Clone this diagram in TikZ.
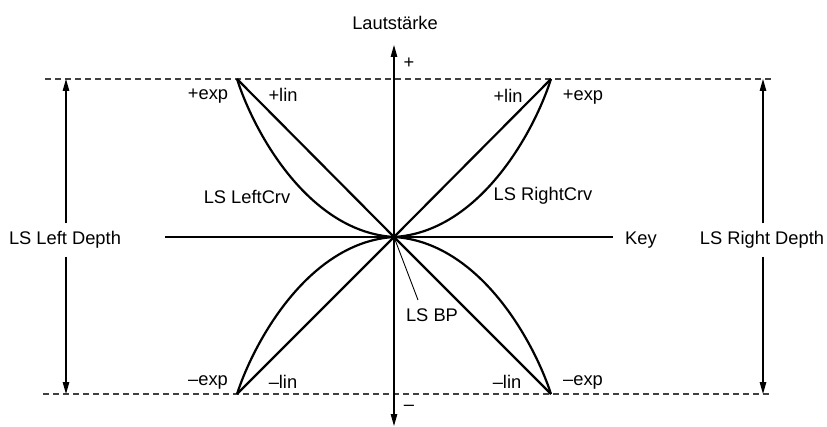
\documentclass[tikz,border=0pt]{standalone}
\usepackage{fontspec}
\setmainfont{Liberation Sans}
\usetikzlibrary{arrows.meta}
\tikzset{
  lbl/.style={inner sep=0pt, font=\fontsize{18.3}{21}\selectfont},
  axis/.style={line width=1.2pt, black},
  arr/.style={-{Triangle[length=12pt,width=6.5pt]}},
  guide/.style={line width=1.1pt, dash pattern=on 6pt off 4pt, black!75},
  crv/.style={line width=2.2pt, black, line join=round},
  leader/.style={line width=0.9pt, black}
}
\begin{document}
\begin{tikzpicture}[x=1pt,y=-1pt]
\useasboundingbox (0,0) rectangle (827,427);
% key points
\coordinate (o) at (394,237);
\coordinate (tl) at (237,79);
\coordinate (tr) at (551,79);
\coordinate (bl) at (237,394);
\coordinate (br) at (551,394);
\coordinate (dtl) at (45,79);
\coordinate (dtr) at (773,79);
\coordinate (dbl) at (43,394);
\coordinate (dbr) at (771,394);
\coordinate (ytop) at (394,45);
\coordinate (ybot) at (394,426);
\coordinate (xl) at (165,237);
\coordinate (xr) at (613,237);
\coordinate (lat) at (66,79);
\coordinate (lab) at (66,394);
\coordinate (rat) at (763,79);
\coordinate (rab) at (763,394);
\coordinate (bpend) at (418,300);
% dashed guides
\draw[guide] (dtl) -- (dtr);
\draw[guide] (dbl) -- (dbr);
% axes
\draw[axis, {Triangle[length=12pt,width=6.5pt]}-{Triangle[length=12pt,width=6.5pt]}] (ybot) -- (ytop);
\draw[axis] (xl) -- (xr);
% labels
\node[lbl] (laut) at (395,23) {Lautstärke};
\node[lbl] (plus) at (409,63) {+};
\node[lbl] (minus) at (409,408) {–};
\node[lbl] (key) at (641,240) {Key};
\node[lbl, inner ysep=8pt] (ld) at (65,240) {LS Left Depth};
\node[lbl, inner ysep=8pt] (rd) at (762,240) {LS Right Depth};
\node[lbl] (pexpl) at (208,96) {+exp};
\node[lbl] (plinl) at (283,95) {+lin};
\node[lbl] (plinr) at (508,96) {+lin};
\node[lbl] (pexpr) at (583,97) {+exp};
\node[lbl] (mexpl) at (208,382) {–exp};
\node[lbl] (mlinl) at (283,382) {–lin};
\node[lbl] (mlinr) at (507,382) {–lin};
\node[lbl] (mexpr) at (583,382) {–exp};
\node[lbl] (lcrv) at (247,197) {LS LeftCrv};
\node[lbl] (rcrv) at (543,196) {LS RightCrv};
\node[lbl] (bp) at (432,315) {LS BP};
% depth arrows
\draw[axis, arr] (lat |- ld.north) -- (lat);
\draw[axis, arr] (lab |- ld.south) -- (lab);
\draw[axis, arr] (rat |- rd.north) -- (rat);
\draw[axis, arr] (rab |- rd.south) -- (rab);
% linear curves
\draw[crv] (tl) -- (o) -- (br);
\draw[crv] (tr) -- (o) -- (bl);
% exponential curves
\draw[crv] (tl) .. controls (255,135) and (310,232) .. (o);
\draw[crv] (bl) .. controls (255,339) and (310,242) .. (o);
\draw[crv] (tr) .. controls (533,135) and (478,232) .. (o);
\draw[crv] (br) .. controls (533,339) and (478,242) .. (o);
% BP leader
\draw[leader] (o) -- (bpend);
\end{tikzpicture}
\end{document}
